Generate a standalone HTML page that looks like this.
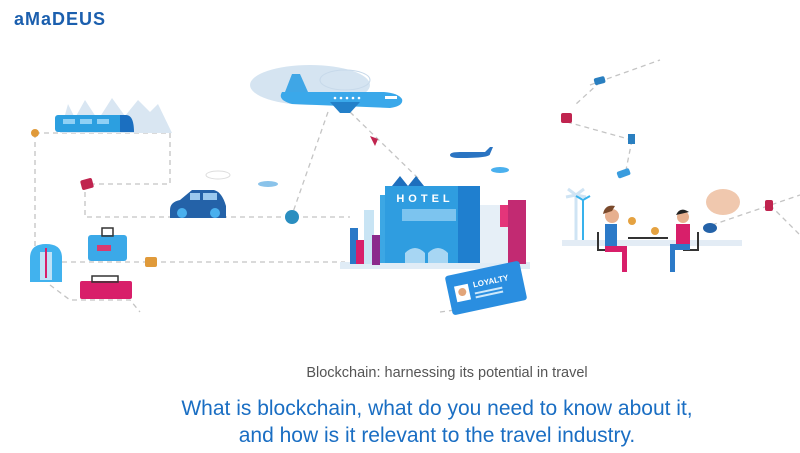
<!DOCTYPE html>
<html><head><meta charset="utf-8"><style>
html,body{margin:0;padding:0;background:#fff;width:800px;height:453px;overflow:hidden}
svg{display:block}
</style></head><body>
<svg width="800" height="453" viewBox="0 0 800 453" xmlns="http://www.w3.org/2000/svg" font-family="Liberation Sans, sans-serif">
<rect width="800" height="453" fill="#fff"/>
<text x="14" y="25" font-size="18" font-weight="bold" fill="#1b5fae" letter-spacing="1">aMaDEUS</text>

<g fill="none" stroke="#c4c4c4" stroke-width="1.3" stroke-dasharray="5,4">
<polyline points="35,133 35,250"/>
<polyline points="35,133 170,133 170,184 85,184 85,217 350,217"/>
<polyline points="62,262 345,262"/>
<polyline points="50,285 70,300 130,300 140,312"/>
<line x1="328" y1="112" x2="292" y2="215"/>
<line x1="350" y1="112" x2="420" y2="180"/>
<line x1="590" y1="85" x2="660" y2="60"/>
<line x1="600" y1="82" x2="575" y2="105"/>
<line x1="567" y1="122" x2="632" y2="140"/>
<line x1="632" y1="140" x2="625" y2="175"/>
<line x1="712" y1="225" x2="800" y2="195"/>
<line x1="770" y1="205" x2="800" y2="235"/>
<line x1="440" y1="312" x2="455" y2="310"/>
</g>

<path d="M60,133 L68,104 L75,118 L85,100 L98,120 L112,98 L125,116 L138,100 L150,112 L158,104 L172,133Z" fill="#d9e6f2"/>
<rect x="55" y="115" width="72" height="17" rx="3" fill="#2c9fe0"/>
<path d="M120,115 h6 q8,0 8,17 h-14Z" fill="#1b6fc0"/>
<rect x="63" y="119" width="12" height="5" fill="#8fd0f5"/><rect x="80" y="119" width="12" height="5" fill="#8fd0f5"/><rect x="97" y="119" width="12" height="5" fill="#8fd0f5"/>
<circle cx="35" cy="133" r="4" fill="#e09a3a"/>
<rect x="81" y="179" width="12" height="10" rx="2" fill="#c0244f" transform="rotate(-15 87 184)"/>
<ellipse cx="310" cy="85" rx="60" ry="20" fill="#d5e4f1"/>
<ellipse cx="345" cy="80" rx="25" ry="10" fill="none" stroke="#c7d9ea"/>
<ellipse cx="268" cy="184" rx="10" ry="3" fill="#8ac3ea"/>
<ellipse cx="218" cy="175" rx="12" ry="4" fill="none" stroke="#ddd"/>
<path d="M285,92 L292,74 L300,74 L308,92 Z" fill="#3fa6e6"/>
<path d="M282,92 q-5,8 10,12 L390,108 q14,-2 12,-9 q-4,-6 -18,-7Z" fill="#3aa8ea"/>
<path d="M330,102 L360,102 L350,113 L340,113Z" fill="#2380c9"/>
<g fill="#fff"><circle cx="335" cy="98" r="1.3"/><circle cx="341" cy="98" r="1.3"/><circle cx="347" cy="98" r="1.3"/><circle cx="353" cy="98" r="1.3"/><circle cx="359" cy="98" r="1.3"/></g>
<rect x="385" y="96" width="12" height="3" fill="#fff"/>
<path d="M370,136 l8,3 -3,7Z" fill="#c0244f"/>
<path d="M170,210 q0,-8 10,-10 l12,-10 h22 q8,2 12,16 v12 h-56Z" fill="#2462a8"/>
<rect x="190" y="193" width="10" height="7" fill="#9bc9ee"/><rect x="203" y="193" width="14" height="7" fill="#9bc9ee"/>
<circle cx="182" cy="213" r="5" fill="#4ab0ee"/><circle cx="215" cy="213" r="5" fill="#4ab0ee"/>
<circle cx="292" cy="217" r="7" fill="#2a8ec0"/>
<rect x="88" y="235" width="39" height="26" rx="3" fill="#3ba9e8"/>
<rect x="102" y="228" width="11" height="8" fill="none" stroke="#333" stroke-width="1.5"/>
<rect x="97" y="245" width="14" height="6" fill="#d83a70"/>
<rect x="80" y="281" width="52" height="18" rx="2" fill="#d81f6a"/>
<rect x="92" y="276" width="26" height="6" fill="none" stroke="#333" stroke-width="1.5"/>
<path d="M30,258 q0,-14 16,-14 q16,0 16,14 v24 h-32Z" fill="#41b2ee"/>
<rect x="40" y="252" width="12" height="28" fill="#bfe2f7"/>
<rect x="45" y="248" width="2" height="30" fill="#d81f6a"/>
<rect x="145" y="257" width="12" height="10" rx="2" fill="#e09a3a"/>
<rect x="340" y="262" width="190" height="7" fill="#e0ecf6"/>
<rect x="350" y="228" width="8" height="36" fill="#2a79c7"/>
<rect x="356" y="240" width="9" height="24" fill="#d81f6a"/>
<rect x="364" y="210" width="10" height="54" fill="#c8e4f4"/>
<rect x="372" y="235" width="8" height="30" fill="#8b2a8c"/>
<rect x="380" y="195" width="60" height="68" fill="#3ca7e4"/>
<path d="M392,186 l8,-10 8,10 8,-10 8,10Z" fill="#1e6fbd"/>
<rect x="385" y="186" width="73" height="77" fill="#2f9de0"/>
<rect x="402" y="209" width="54" height="12" fill="#7cc4ef"/>
<path d="M405,263 v-10 q10,-10 20,0 v10Z M428,263 v-10 q10,-10 20,0 v10Z" fill="#a7d6f3"/>
<rect x="458" y="186" width="22" height="77" fill="#1f7fcf"/>
<text x="425" y="202" font-size="11" font-weight="bold" fill="#fff" text-anchor="middle" letter-spacing="4">HOTEL</text>
<rect x="480" y="205" width="30" height="58" fill="#e6eff7"/>
<rect x="500" y="205" width="8" height="22" fill="#e4357a"/>
<rect x="508" y="200" width="18" height="64" fill="#c22a72"/>
<path d="M450,155 q0,-3 10,-3 h25 l5,-5 h3 l-3,7 q0,4 -30,4 q-10,0 -10,-3Z" fill="#2a74c2"/>
<ellipse cx="500" cy="170" rx="9" ry="3" fill="#4ab0ee"/>
<g transform="rotate(-12 486 288)">
<rect x="448" y="268" width="76" height="40" rx="3" fill="#2a8ee0"/>
<rect x="455" y="280" width="14" height="16" fill="#fff"/>
<circle cx="462" cy="287" r="4" fill="#e2a57a"/>
<text x="474" y="285" font-size="8" fill="#fff" font-weight="bold">LOYALTY</text>
<rect x="474" y="290" width="28" height="2" fill="#cde8fb"/><rect x="474" y="294" width="28" height="2" fill="#cde8fb"/>
</g>
<rect x="594" y="77" width="11" height="7" rx="2" fill="#2a7fc0" transform="rotate(-15 600 80)"/>
<rect x="561" y="113" width="11" height="10" rx="2" fill="#c0244f"/>
<rect x="628" y="134" width="7" height="10" fill="#2a7fc0"/>
<rect x="617" y="170" width="13" height="7" rx="2" fill="#3a9cde" transform="rotate(-20 623 173)"/>
<rect x="562" y="240" width="180" height="6" fill="#e3ecf5"/>
<path d="M576,240 v-45 M576,195 l-8,-6 M576,195 l8,-6 M576,195 l-10,2 M576,195 l10,2" stroke="#cfe4f4" stroke-width="3" fill="none"/>
<path d="M583,240 v-40 M583,200 l-7,-4 M583,200 l7,-4" stroke="#38b2ec" stroke-width="2" fill="none"/>
<path d="M598,232 v18 h15 M698,232 v18 h-15" stroke="#333" stroke-width="2" fill="none"/>
<rect x="628" y="237" width="40" height="2" fill="#333"/>
<circle cx="612" cy="216" r="7" fill="#e7b08f"/>
<path d="M603,214 q2,-10 12,-8 l-3,5Z" fill="#7a4a2c"/>
<rect x="605" y="224" width="12" height="22" fill="#2c7ac8"/>
<path d="M605,246 h22 v26 h-5 v-20 h-17Z" fill="#d81f6a"/>
<circle cx="683" cy="217" r="6" fill="#e7b08f"/>
<path d="M676,215 q4,-9 13,-3Z" fill="#222"/>
<rect x="676" y="224" width="14" height="20" fill="#d81f6a"/>
<path d="M690,244 h-20 v28 h5 v-22 h15Z" fill="#2c7ac8"/>
<circle cx="632" cy="221" r="4" fill="#e5a240"/><circle cx="655" cy="231" r="4" fill="#e5a240"/>
<ellipse cx="723" cy="202" rx="17" ry="13" fill="#f0c8ae"/>
<ellipse cx="710" cy="228" rx="7" ry="5" fill="#2462a8"/>
<rect x="765" y="200" width="8" height="11" rx="2" fill="#c0244f"/>

<text x="447" y="377" font-size="14.5" fill="#555" text-anchor="middle">Blockchain: harnessing its potential in travel</text>
<text x="437" y="415" font-size="21" fill="#1a6ec3" text-anchor="middle">What is blockchain, what do you need to know about it,</text>
<text x="437" y="442" font-size="21" fill="#1a6ec3" text-anchor="middle">and how is it relevant to the travel industry.</text>
</svg>
</body></html>
